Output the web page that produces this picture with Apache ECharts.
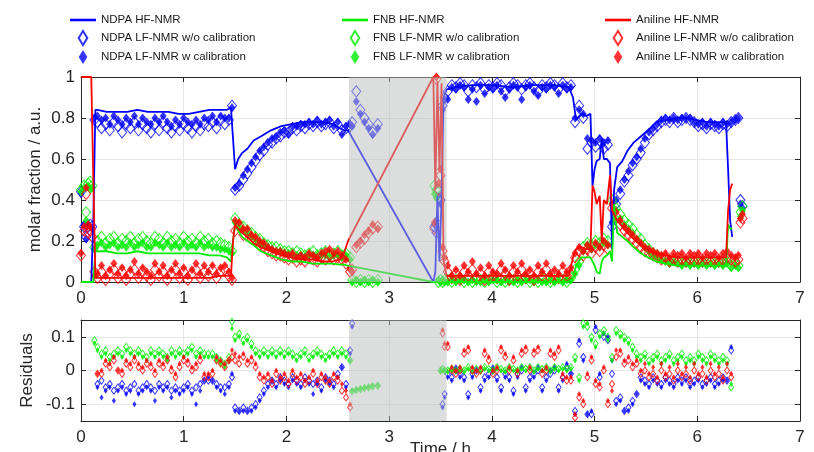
<!DOCTYPE html>
<html><head><meta charset="utf-8">
<script src="https://cdn.jsdelivr.net/npm/echarts@6/dist/echarts.min.js"></script>
<style>html,body{margin:0;padding:0;background:#fff}#c{width:814px;height:452px}</style>
</head><body><div id="c"></div>
<script>
// ---------- DATA ----------
// LF-NMR measurement times (h)
const T = [
 0.00,0.03,0.05,0.07,0.09,0.11,0.13,
 0.16,0.20,0.24,0.28,0.32,0.36,0.40,0.44,0.48,0.52,0.56,0.60,0.64,0.68,0.72,0.76,0.80,0.84,0.88,0.92,0.96,1.00,1.04,1.08,1.12,1.16,1.20,1.24,1.28,1.32,1.36,1.40,1.44,1.47,
 1.50,1.54,1.58,1.62,1.66,1.70,1.74,1.78,1.82,1.86,1.90,1.94,1.98,2.02,2.06,2.10,2.14,2.18,2.22,2.26,2.30,2.34,2.38,2.42,2.46,2.50,2.54,2.58,2.62,
 2.64,2.68,2.72,2.76,2.80,2.84,2.89,
 3.44,3.46,3.48,3.50,3.52,3.54,
 3.57,3.61,3.65,3.69,3.73,3.77,3.81,3.85,3.89,3.93,3.97,4.01,4.05,4.09,4.13,4.17,4.21,4.25,4.29,4.33,4.37,4.41,4.45,4.49,4.53,4.57,4.61,4.65,4.69,4.73,4.77,
 4.81,4.85,4.89,4.93,4.97,5.01,5.05,5.09,5.13,5.17,5.21,5.25,5.29,5.33,5.37,5.41,5.45,5.49,5.53,5.57,5.61,5.65,5.69,5.73,5.77,5.81,5.85,5.89,5.93,5.97,6.01,6.05,6.09,6.13,6.17,6.21,6.25,6.29,6.33,6.37,6.40,
 6.42,6.44
];
const ndpaRaw = [
 0.44,0.27,0.22,0.27,0.28,0.27,0.79,
 0.78,0.75,0.77,0.74,0.78,0.76,0.73,0.77,0.75,0.78,0.74,0.77,0.75,0.73,0.77,0.74,0.78,0.75,0.73,0.76,0.74,0.77,0.75,0.73,0.76,0.74,0.77,0.76,0.78,0.75,0.79,0.77,0.79,0.86,
 0.45,0.47,0.50,0.53,0.56,0.59,0.62,0.64,0.67,0.68,0.70,0.71,0.73,0.73,0.75,0.74,0.76,0.75,0.77,0.76,0.78,0.76,0.77,0.78,0.75,0.77,0.74,0.75,0.76,
 0.78,0.93,0.84,0.80,0.77,0.73,0.77,
 0.27,0.24,0.45,0.40,0.86,0.90,
 0.93,0.96,0.95,0.97,0.96,0.93,0.96,0.95,0.97,0.94,0.96,0.95,0.97,0.96,0.93,0.95,0.97,0.96,0.94,0.96,0.97,0.95,0.93,0.96,0.95,0.97,0.96,0.94,0.97,0.95,0.96,
 0.78,0.86,0.80,0.65,0.68,0.66,0.69,0.65,0.67,0.27,0.38,0.43,0.49,0.52,0.57,0.60,0.63,0.68,0.72,0.74,0.76,0.78,0.79,0.78,0.80,0.78,0.79,0.80,0.79,0.78,0.76,0.77,0.75,0.77,0.76,0.75,0.77,0.76,0.78,0.79,0.80,
 0.40,0.37
];
const ndpaCal = [
 0.43,0.28,0.21,0.28,0.27,0.26,0.80,
 0.81,0.79,0.80,0.77,0.81,0.79,0.77,0.80,0.78,0.81,0.77,0.80,0.78,0.77,0.80,0.78,0.81,0.78,0.76,0.79,0.77,0.80,0.78,0.77,0.79,0.77,0.80,0.79,0.81,0.78,0.81,0.80,0.80,0.85,
 0.46,0.48,0.52,0.55,0.58,0.61,0.64,0.66,0.68,0.70,0.71,0.73,0.74,0.72,0.76,0.76,0.77,0.77,0.78,0.77,0.79,0.77,0.78,0.79,0.76,0.78,0.72,0.76,0.77,
 0.76,0.88,0.82,0.78,0.75,0.72,0.75,
 0.28,0.30,0.42,0.38,0.84,0.89,
 0.89,0.95,0.94,0.96,0.95,0.89,0.94,0.88,0.96,0.92,0.95,0.94,0.96,0.93,0.90,0.94,0.96,0.95,0.89,0.95,0.96,0.93,0.91,0.95,0.94,0.96,0.95,0.92,0.96,0.94,0.95,
 0.80,0.84,0.82,0.70,0.69,0.68,0.70,0.68,0.69,0.29,0.40,0.45,0.50,0.54,0.58,0.61,0.65,0.70,0.73,0.75,0.77,0.79,0.80,0.79,0.80,0.79,0.80,0.80,0.80,0.78,0.77,0.78,0.76,0.78,0.77,0.76,0.78,0.77,0.78,0.79,0.80,
 0.38,0.36
];
const fnbRaw = [
 0.45,0.47,0.34,0.48,0.49,0.47,0.17,
 0.20,0.22,0.19,0.21,0.22,0.19,0.21,0.20,0.22,0.19,0.21,0.22,0.20,0.19,0.22,0.21,0.19,0.22,0.20,0.21,0.19,0.22,0.20,0.21,0.19,0.22,0.20,0.21,0.19,0.20,0.19,0.18,0.17,0.15,
 0.31,0.28,0.27,0.25,0.24,0.22,0.21,0.19,0.18,0.17,0.17,0.16,0.15,0.15,0.14,0.15,0.14,0.13,0.14,0.15,0.13,0.14,0.15,0.13,0.14,0.15,0.13,0.14,0.12,
 0.01,0.00,0.01,0.00,0.01,0.00,0.01,
 0.47,0.45,0.00,0.01,0.00,0.01,
 0.01,0.00,0.01,0.02,0.00,0.01,0.00,0.02,0.01,0.00,0.01,0.02,0.00,0.01,0.00,0.02,0.01,0.00,0.01,0.02,0.00,0.01,0.00,0.02,0.01,0.00,0.01,0.02,0.01,0.00,0.02,
 0.06,0.10,0.17,0.19,0.18,0.20,0.19,0.21,0.20,0.40,0.36,0.33,0.30,0.28,0.26,0.23,0.21,0.18,0.16,0.14,0.13,0.12,0.11,0.10,0.11,0.10,0.09,0.10,0.09,0.10,0.09,0.10,0.09,0.10,0.09,0.10,0.09,0.10,0.08,0.09,0.08,
 0.34,0.37
];
const fnbCal = [
 0.44,0.46,0.30,0.47,0.45,0.46,0.16,
 0.18,0.19,0.17,0.18,0.19,0.17,0.18,0.17,0.19,0.17,0.18,0.19,0.17,0.17,0.19,0.18,0.17,0.19,0.17,0.18,0.17,0.19,0.17,0.18,0.17,0.19,0.17,0.18,0.17,0.17,0.16,0.16,0.15,0.14,
 0.29,0.27,0.25,0.24,0.22,0.21,0.19,0.18,0.17,0.16,0.15,0.15,0.14,0.14,0.13,0.13,0.13,0.12,0.13,0.13,0.12,0.13,0.13,0.12,0.13,0.13,0.12,0.13,0.11,
 0.00,0.01,0.00,0.01,0.00,0.01,0.00,
 0.43,0.41,0.01,0.00,0.01,0.00,
 0.00,0.01,0.00,0.01,0.01,0.00,0.01,0.00,0.00,0.01,0.00,0.01,0.01,0.00,0.01,0.00,0.00,0.01,0.00,0.01,0.01,0.00,0.01,0.00,0.00,0.01,0.00,0.01,0.00,0.01,0.01,
 0.04,0.08,0.15,0.18,0.16,0.18,0.17,0.19,0.18,0.38,0.35,0.31,0.28,0.26,0.24,0.21,0.19,0.17,0.15,0.13,0.12,0.11,0.10,0.09,0.10,0.09,0.08,0.09,0.08,0.09,0.08,0.09,0.08,0.09,0.08,0.09,0.08,0.09,0.07,0.08,0.07,
 0.32,0.35
];
const anilRaw = [
 0.13,0.25,0.43,0.24,0.25,0.22,0.05,
 0.02,0.05,0.01,0.04,0.06,0.02,0.05,0.01,0.04,0.06,0.02,0.05,0.03,0.01,0.06,0.03,0.05,0.01,0.04,0.06,0.02,0.05,0.01,0.04,0.06,0.02,0.05,0.03,0.06,0.02,0.05,0.06,0.03,0.01,
 0.25,0.27,0.23,0.24,0.21,0.20,0.18,0.17,0.15,0.14,0.13,0.13,0.12,0.11,0.12,0.10,0.11,0.10,0.12,0.11,0.10,0.12,0.11,0.13,0.11,0.12,0.11,0.09,0.05,
 0.06,0.17,0.19,0.21,0.24,0.26,0.27,
 0.26,0.99,0.45,0.52,0.15,0.10,
 0.05,0.02,0.04,0.01,0.05,0.03,0.06,0.02,0.04,0.01,0.05,0.03,0.02,0.06,0.04,0.01,0.05,0.03,0.06,0.02,0.04,0.01,0.05,0.03,0.06,0.02,0.04,0.02,0.05,0.03,0.04,
 0.12,0.15,0.13,0.16,0.14,0.17,0.15,0.18,0.16,0.36,0.32,0.28,0.25,0.23,0.21,0.19,0.17,0.15,0.14,0.13,0.12,0.11,0.12,0.10,0.11,0.10,0.11,0.10,0.11,0.10,0.11,0.10,0.11,0.10,0.11,0.10,0.11,0.12,0.11,0.10,0.11,
 0.29,0.31
];
const anilCal = [
 0.14,0.27,0.46,0.28,0.27,0.26,0.03,
 0.04,0.08,0.03,0.06,0.09,0.04,0.07,0.03,0.06,0.10,0.04,0.07,0.05,0.03,0.09,0.05,0.08,0.03,0.06,0.09,0.04,0.07,0.03,0.06,0.09,0.04,0.08,0.05,0.08,0.04,0.07,0.08,0.05,0.02,
 0.30,0.29,0.26,0.26,0.23,0.22,0.20,0.19,0.17,0.16,0.15,0.15,0.14,0.13,0.14,0.12,0.13,0.12,0.14,0.13,0.12,0.14,0.15,0.16,0.14,0.15,0.13,0.11,0.07,
 0.05,0.18,0.20,0.23,0.25,0.28,0.26,
 0.29,1.00,0.48,0.55,0.17,0.12,
 0.08,0.03,0.06,0.03,0.08,0.05,0.10,0.04,0.07,0.03,0.08,0.05,0.04,0.09,0.06,0.03,0.08,0.05,0.09,0.04,0.06,0.03,0.08,0.05,0.09,0.04,0.06,0.04,0.08,0.05,0.07,
 0.14,0.17,0.15,0.18,0.16,0.19,0.17,0.20,0.18,0.38,0.34,0.30,0.27,0.25,0.23,0.21,0.19,0.17,0.16,0.15,0.14,0.13,0.14,0.12,0.14,0.13,0.14,0.12,0.14,0.13,0.14,0.12,0.14,0.13,0.14,0.12,0.14,0.15,0.13,0.12,0.13,
 0.31,0.33
];
// Residuals (same times as T; null = no point)
const N = null;
const ndpaResRaw = [
 N,N,N,N,N,N,N,
 -0.04,-0.03,-0.05,-0.04,-0.06,-0.05,-0.04,-0.06,-0.05,-0.04,-0.06,-0.05,-0.04,-0.05,-0.06,-0.04,-0.05,-0.04,-0.06,-0.05,-0.06,-0.05,-0.04,-0.06,-0.05,-0.04,-0.03,-0.03,-0.03,-0.04,-0.05,-0.05,-0.04,-0.02,
 -0.11,-0.12,-0.11,-0.12,-0.11,-0.10,-0.08,-0.06,-0.04,-0.03,-0.04,-0.02,-0.03,-0.04,-0.02,-0.03,-0.04,-0.02,-0.03,-0.04,-0.03,-0.05,-0.02,-0.03,-0.04,-0.01,0.01,-0.04,0.06,
 0.14,N,N,N,N,N,N,
 N,N,N,N,-0.10,-0.07,
 -0.01,-0.02,0.00,-0.01,-0.02,-0.07,-0.01,0.00,-0.05,-0.02,-0.01,0.00,-0.02,-0.05,-0.01,-0.02,-0.06,-0.01,0.00,-0.05,-0.02,-0.01,0.00,-0.05,-0.02,-0.01,0.00,-0.05,-0.02,0.01,-0.01,
 -0.12,0.08,0.04,-0.13,-0.13,0.12,-0.02,0.10,0.09,-0.01,-0.09,-0.08,-0.12,-0.11,-0.09,-0.07,-0.02,-0.03,-0.04,-0.02,-0.03,-0.04,-0.02,-0.03,-0.04,-0.02,-0.03,-0.02,-0.04,-0.03,-0.02,-0.04,-0.03,-0.02,-0.04,-0.03,-0.02,-0.03,0.06,N,N,
 N,N
];
const ndpaResCal = [
 N,N,N,N,N,N,N,
 -0.05,-0.08,-0.06,-0.05,-0.09,-0.06,-0.05,-0.07,-0.06,-0.10,-0.07,-0.06,-0.05,-0.06,-0.09,-0.05,-0.06,-0.05,-0.08,-0.06,-0.07,-0.06,-0.05,-0.07,-0.10,-0.06,-0.03,-0.02,-0.03,-0.05,-0.06,-0.07,-0.05,-0.01,
 -0.12,-0.12,-0.12,-0.12,-0.12,-0.11,-0.09,-0.07,-0.05,-0.03,-0.05,-0.03,-0.04,-0.05,-0.03,-0.04,-0.05,-0.03,-0.04,-0.07,-0.04,-0.06,-0.03,-0.04,-0.05,-0.02,0.01,-0.05,0.05,
 0.13,N,N,N,N,N,N,
 N,N,N,N,-0.11,-0.08,
 -0.02,-0.03,0.01,-0.02,-0.03,-0.08,-0.02,0.00,-0.06,-0.03,-0.02,0.01,-0.03,-0.06,-0.02,-0.03,-0.07,-0.02,0.01,-0.06,-0.03,-0.02,0.01,-0.06,-0.03,0.00,0.01,-0.06,-0.03,0.02,-0.01,
 -0.13,0.09,0.03,-0.13,-0.12,0.13,-0.01,0.11,0.10,0.03,-0.10,-0.09,-0.12,-0.12,-0.10,-0.07,-0.03,-0.04,-0.05,-0.03,-0.04,-0.05,-0.03,-0.04,-0.05,-0.03,-0.04,-0.03,-0.05,-0.04,-0.03,-0.05,-0.04,-0.03,-0.05,-0.04,-0.03,-0.03,0.07,N,N,
 N,N
];
const fnbResRaw = [
 N,N,N,N,N,N,0.09,
 0.07,0.05,0.06,0.04,0.05,0.06,0.05,0.07,0.06,0.05,0.06,0.05,0.04,0.06,0.05,0.06,0.05,0.04,0.06,0.05,0.06,0.05,0.06,0.07,0.05,0.06,0.05,0.05,0.05,0.04,0.03,0.02,0.04,0.145,
 0.10,0.11,0.09,0.10,0.08,0.06,0.05,0.06,0.05,0.06,0.05,0.06,0.05,0.06,0.05,0.04,0.05,0.06,0.04,0.05,0.06,0.05,0.04,0.05,0.06,0.05,0.06,0.05,0.03,
 -0.062,-0.058,-0.055,-0.052,-0.050,-0.047,-0.045,
 N,N,N,0.000,0.005,0.000,
 0.000,0.005,0.000,0.005,0.000,0.010,0.000,0.005,0.000,0.010,0.005,0.000,0.010,0.005,0.000,0.010,0.005,0.000,0.010,0.005,0.010,0.000,0.010,0.005,0.010,0.000,0.010,0.005,0.010,0.005,0.010,
 0.04,-0.02,0.14,0.13,0.10,0.08,0.11,0.12,0.10,0.04,0.12,0.11,0.10,0.09,0.07,0.05,0.04,0.05,0.03,0.04,0.05,0.03,0.04,0.05,0.03,0.04,0.05,0.03,0.04,0.03,0.05,0.04,0.03,0.05,0.04,0.03,0.04,0.03,-0.05,N,N,
 N,N
];
const fnbResCal = [
 N,N,N,N,N,N,0.08,
 0.06,0.04,0.05,0.03,0.04,0.05,0.04,0.06,0.05,0.04,0.05,0.04,0.03,0.05,0.04,0.05,0.04,0.03,0.05,0.04,0.05,0.04,0.05,0.06,0.04,0.05,0.04,0.04,0.04,0.03,0.02,0.01,0.03,0.125,
 0.09,0.10,0.08,0.09,0.07,0.05,0.04,0.05,0.04,0.05,0.04,0.05,0.04,0.05,0.04,0.03,0.04,0.05,0.03,0.04,0.05,0.04,0.03,0.04,0.05,0.04,0.05,0.04,0.03,
 -0.060,-0.057,-0.054,-0.051,-0.049,-0.046,-0.044,
 N,N,N,-0.003,0.000,-0.003,
 -0.003,0.000,-0.003,0.000,-0.003,0.005,-0.003,0.000,-0.003,0.005,0.000,-0.003,0.005,0.000,-0.003,0.005,0.000,-0.003,0.005,0.000,0.005,-0.003,0.005,0.000,0.005,-0.003,0.005,0.000,0.005,0.000,0.005,
 0.03,-0.03,0.13,0.14,0.09,0.07,0.10,0.11,0.09,0.03,0.11,0.10,0.09,0.08,0.06,0.04,0.03,0.04,0.02,0.03,0.04,0.02,0.03,0.04,0.02,0.03,0.04,0.02,0.03,0.02,0.04,0.03,0.02,0.04,0.03,0.02,0.03,0.02,-0.04,N,N,
 N,N
];
const anilResRaw = [
 N,N,N,N,N,N,N,
 -0.01,-0.01,0.02,0.01,0.03,0.00,-0.01,0.02,0.01,0.03,0.01,0.00,0.02,0.01,-0.01,0.02,0.01,0.03,0.00,-0.02,0.01,0.03,0.02,0.00,0.01,0.03,-0.02,-0.02,-0.01,0.03,0.02,0.01,0.03,0.04,
 0.03,0.02,0.04,0.02,0.03,0.01,-0.02,-0.03,-0.02,-0.04,-0.01,-0.03,-0.02,-0.04,-0.01,-0.03,-0.02,-0.04,-0.03,-0.01,-0.04,-0.02,-0.03,-0.04,-0.02,-0.03,-0.06,-0.08,-0.11,
 N,N,N,N,N,N,N,
 N,N,N,N,0.11,0.07,
 0.07,0.00,-0.01,0.00,0.05,0.06,0.00,-0.01,0.00,0.05,0.03,-0.01,0.00,0.06,0.04,0.00,0.03,-0.01,0.05,0.06,0.00,0.05,0.06,-0.01,0.00,0.05,0.04,0.06,-0.02,-0.03,-0.03,
 -0.14,-0.08,-0.10,-0.02,0.03,-0.04,-0.05,0.00,-0.10,-0.04,0.04,0.05,0.02,0.03,0.01,0.02,-0.01,0.00,-0.02,-0.01,-0.03,0.00,-0.02,-0.01,-0.03,0.00,-0.02,-0.01,-0.03,0.00,-0.02,-0.01,-0.03,0.00,-0.02,-0.01,-0.03,0.00,-0.02,N,N,
 N,N
];
const anilResCal = [
 N,N,N,N,N,N,N,
 -0.01,0.00,0.03,0.02,0.04,0.00,0.00,0.03,0.02,0.04,0.02,0.01,0.03,0.02,0.00,0.03,0.02,0.04,0.01,-0.01,0.02,0.04,0.03,0.01,0.02,0.04,-0.01,-0.01,0.00,0.04,0.03,0.02,0.03,0.06,
 0.05,0.04,0.05,0.03,0.04,0.02,-0.01,-0.02,-0.01,-0.03,0.00,-0.02,-0.01,-0.03,0.00,-0.02,-0.01,-0.03,-0.02,0.00,-0.03,-0.01,-0.02,-0.03,-0.01,-0.02,-0.04,-0.06,-0.10,
 N,N,N,N,N,N,N,
 N,N,N,N,0.12,0.08,
 0.08,0.01,0.00,0.01,0.06,0.07,0.01,0.00,0.01,0.06,0.04,0.00,0.01,0.07,0.05,0.01,0.04,0.00,0.06,0.07,0.01,0.06,0.07,0.00,0.01,0.06,0.05,0.07,-0.01,-0.02,-0.02,
 -0.13,-0.07,-0.09,-0.01,0.04,-0.03,-0.04,0.01,-0.09,-0.06,0.06,0.06,0.03,0.04,0.02,0.03,0.00,0.02,-0.01,0.01,-0.02,0.02,-0.01,0.01,-0.02,0.02,-0.01,0.01,-0.02,0.02,-0.01,0.01,-0.02,0.02,-0.01,0.01,-0.02,0.02,-0.01,N,N,
 N,N
];
// HF-NMR reference times and values
const hfT = [
 0,0.10,0.12,0.14,0.16,0.25,0.35,0.45,0.55,0.65,
 0.75,0.85,0.95,1.05,1.15,1.25,1.35,1.42,1.46,1.48,
 1.50,1.53,1.57,1.62,1.68,1.75,1.85,1.95,2.05,2.15,
 2.25,2.35,2.45,2.52,2.56,2.60,3.43,3.45,3.47,3.49,
 3.51,3.53,3.56,3.65,3.80,4.00,4.20,4.40,4.60,4.75,
 4.79,4.82,4.87,4.92,4.96,4.98,5.00,5.02,5.05,5.07,
 5.09,5.12,5.15,5.17,5.19,5.22,5.27,5.32,5.38,5.45,
 5.52,5.60,5.70,5.80,5.90,6.00,6.10,6.20,6.28,6.30,
 6.32,6.34
];
const ndpaHf = [
 0,0,0.30,0.84,0.84,0.83,0.83,0.83,0.84,0.83,
 0.83,0.83,0.82,0.82,0.83,0.84,0.84,0.84,0.85,0.70,
 0.55,0.60,0.63,0.65,0.69,0.71,0.74,0.76,0.77,0.78,
 0.78,0.78,0.77,0.75,0.74,0.74,0.00,0.05,0.42,0.10,
 0.40,0.90,0.94,0.95,0.96,0.96,0.95,0.96,0.96,0.95,
 0.90,0.79,0.82,0.81,0.82,0.47,0.55,0.59,0.60,0.70,
 0.60,0.60,0.58,0.16,0.45,0.56,0.59,0.64,0.68,0.71,
 0.74,0.78,0.79,0.80,0.80,0.79,0.78,0.78,0.78,0.55,
 0.30,0.22
];
const fnbHf = [
 0,0,0,0.15,0.15,0.15,0.14,0.14,0.15,0.14,
 0.14,0.14,0.14,0.14,0.14,0.13,0.13,0.12,0.10,0.20,
 0.28,0.25,0.22,0.20,0.18,0.15,0.13,0.11,0.10,0.10,
 0.09,0.09,0.09,0.085,0.085,0.08,0.00,0.00,0.00,0.00,
 0.00,0.00,0.00,0.00,0.00,0.00,0.00,0.00,0.00,0.00,
 0.02,0.08,0.12,0.12,0.12,0.10,0.08,0.05,0.04,0.10,
 0.12,0.13,0.15,0.10,0.38,0.24,0.22,0.20,0.17,0.14,
 0.12,0.10,0.09,0.08,0.08,0.08,0.08,0.08,0.08,0.28,
 0.26,0.26
];
const anilHf = [
 1.0,1.0,0.50,0.02,0.02,0.02,0.02,0.02,0.02,0.02,
 0.02,0.02,0.02,0.02,0.02,0.02,0.03,0.03,0.03,0.20,
 0.28,0.26,0.24,0.22,0.19,0.17,0.15,0.13,0.12,0.11,
 0.11,0.10,0.10,0.11,0.14,0.20,1.0,0.45,0.98,0.55,
 0.97,0.10,0.03,0.03,0.03,0.03,0.03,0.03,0.03,0.03,
 0.12,0.16,0.17,0.16,0.16,0.47,0.44,0.38,0.42,0.20,
 0.40,0.38,0.52,0.35,0.33,0.30,0.27,0.24,0.21,0.18,
 0.16,0.14,0.13,0.12,0.12,0.12,0.12,0.12,0.12,0.35,
 0.45,0.48
];
const shadedSpan = [2.61, 3.56];
const xTicks = [0, 7, 1];          // min, max, interval
const resTicks = [-0.1, 0, 0.1];

// ---------- CHART ----------
const FONT = 'Liberation Sans, Arial, Helvetica, sans-serif';
const TXT = '#262626';
const BLUE = '#0000ff', GREEN = '#00ee00', RED = '#ff0000';
const DIAMOND = 'path://M4,0L8,6.5L4,13L0,6.5Z';
const BAR = 'path://M0,0L26,0L26,2.6L0,2.6Z';

const chart = echarts.init(document.getElementById('c'), null, {renderer: 'canvas'});

function pairs(xs, ys) {
  const out = [];
  for (let i = 0; i < xs.length; i++) if (ys[i] !== null && ys[i] !== undefined) out.push([xs[i], ys[i]]);
  return out;
}
function scat(name, axis, vals, color, filled, size) {
  return {
    type: 'scatter', name, xAxisIndex: axis, yAxisIndex: axis,
    data: pairs(T, vals), symbol: 'diamond', symbolSize: size,
    itemStyle: filled ? {color: color} : {color: 'rgba(0,0,0,0)', borderColor: color, borderWidth: 1},
    silent: true, z: 2, animation: false
  };
}
function hfLine(name, vals, color) {
  return {
    type: 'line', name, xAxisIndex: 0, yAxisIndex: 0, data: pairs(hfT, vals),
    showSymbol: false, symbol: 'none', lineStyle: {color, width: 1.8}, itemStyle: {color},
    silent: true, z: 3, animation: false
  };
}
function shade(axis) {
  return {
    type: 'custom', xAxisIndex: axis, yAxisIndex: axis, silent: true, z: 10,
    data: [shadedSpan], encode: {x: [0, 1]},
    renderItem(params, api) {
      const x0 = api.coord([api.value(0), 0])[0];
      const x1 = api.coord([api.value(1), 0])[0];
      const cs = params.coordSys;
      return {type: 'rect', shape: {x: x0, y: cs.y, width: x1 - x0, height: cs.height},
              style: {fill: 'rgba(185,190,190,0.5)'}};
    }
  };
}
const lineAx = {show: true, onZero: false, lineStyle: {color: TXT, width: 1}};
const tick = {show: true, inside: true, length: 5, lineStyle: {color: TXT, width: 1}};
const lbl = {color: TXT, fontSize: 17, fontFamily: FONT};
const split = {show: true, lineStyle: {color: '#e6e6e6', width: 1}};

function xAx(grid, pos, labels, extra) {
  return Object.assign({
    type: 'value', gridIndex: grid, position: pos, min: xTicks[0], max: xTicks[1], interval: xTicks[2],
    axisLine: lineAx, axisTick: tick, axisLabel: Object.assign({show: labels, margin: 8}, lbl),
    splitLine: labels ? split : {show: false}
  }, extra || {});
}
const legendBase = {
  orient: 'vertical', top: 9, itemWidth: 26, itemHeight: 14, itemGap: 4,
  textStyle: {color: '#1a1a1a', fontSize: 11.5, fontFamily: FONT}, selectedMode: false
};
function legendFor(c, left) {
  return Object.assign({}, legendBase, {left, data: [
    {name: c + ' HF-NMR', icon: BAR},
    {name: c + ' LF-NMR w/o calibration', icon: DIAMOND},
    {name: c + ' LF-NMR w calibration', icon: DIAMOND}
  ]});
}

const option = {
  backgroundColor: '#fff',
  animation: false,
  legend: [legendFor('NDPA', 65), legendFor('FNB', 337), legendFor('Aniline', 600)],
  grid: [
    {left: 81, right: 14, top: 77, height: 205, show: false, containLabel: false, outerBoundsMode: 'none'},
    {left: 81, right: 14, top: 320, height: 101, show: false, containLabel: false, outerBoundsMode: 'none'}
  ],
  xAxis: [
    xAx(0, 'bottom', true),
    xAx(0, 'top', false),
    xAx(1, 'bottom', true, {name: 'Time / h', nameLocation: 'middle', nameGap: 20, nameMoveOverlap: false,
      nameTextStyle: {color: TXT, fontSize: 17, fontFamily: FONT}}),
    xAx(1, 'top', false)
  ],
  yAxis: [
    {type: 'value', gridIndex: 0, position: 'left', min: 0, max: 1, interval: 0.2,
     name: 'molar fraction / a.u.', nameLocation: 'middle', nameGap: 37, nameMoveOverlap: false,
     nameTextStyle: {color: TXT, fontSize: 17, fontFamily: FONT},
     axisLine: lineAx, axisTick: tick, axisLabel: Object.assign({margin: 6}, lbl), splitLine: split},
    {type: 'value', gridIndex: 0, position: 'right', min: 0, max: 1, interval: 0.2,
     axisLine: lineAx, axisTick: tick, axisLabel: {show: false}, splitLine: {show: false}},
    {type: 'value', gridIndex: 1, position: 'left', min: -0.15, max: 0.15,
     name: 'Residuals', nameLocation: 'middle', nameGap: 45, nameMoveOverlap: false,
     nameTextStyle: {color: TXT, fontSize: 17, fontFamily: FONT},
     axisLine: lineAx, axisTick: Object.assign({customValues: resTicks}, tick),
     axisLabel: Object.assign({margin: 6, customValues: resTicks}, lbl), splitLine: split},
    {type: 'value', gridIndex: 1, position: 'right', min: -0.15, max: 0.15,
     axisLine: lineAx, axisTick: Object.assign({customValues: resTicks}, tick),
     axisLabel: {show: false}, splitLine: {show: false}}
  ],
  series: [
    scat('NDPA LF-NMR w/o calibration', 0, ndpaRaw, BLUE, false, [9, 11]),
    scat('NDPA LF-NMR w calibration', 0, ndpaCal, BLUE, true, [7, 9]),
    scat('FNB LF-NMR w/o calibration', 0, fnbRaw, GREEN, false, [9, 11]),
    scat('FNB LF-NMR w calibration', 0, fnbCal, GREEN, true, [7, 9]),
    scat('Aniline LF-NMR w/o calibration', 0, anilRaw, RED, false, [9, 11]),
    scat('Aniline LF-NMR w calibration', 0, anilCal, RED, true, [7, 9]),
    hfLine('NDPA HF-NMR', ndpaHf, BLUE),
    hfLine('FNB HF-NMR', fnbHf, GREEN),
    hfLine('Aniline HF-NMR', anilHf, RED),
    scat('res NDPA raw', 2, ndpaResRaw, BLUE, false, [5, 7]),
    scat('res NDPA cal', 2, ndpaResCal, BLUE, true, [4, 6]),
    scat('res FNB raw', 2, fnbResRaw, GREEN, false, [5, 7]),
    scat('res FNB cal', 2, fnbResCal, GREEN, true, [4, 6]),
    scat('res Aniline raw', 2, anilResRaw, RED, false, [5, 7]),
    scat('res Aniline cal', 2, anilResCal, RED, true, [4, 6]),
    shade(0),
    shade(2)
  ]
};
chart.setOption(option);
</script>
</body></html>
